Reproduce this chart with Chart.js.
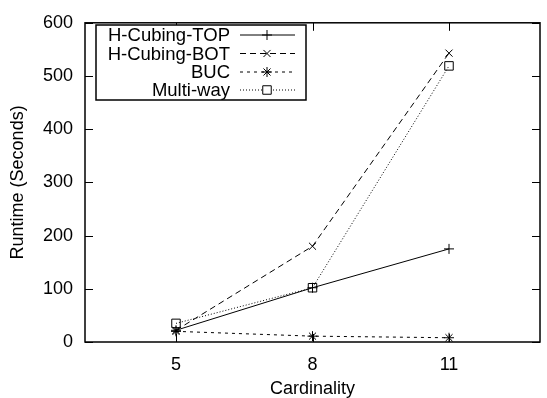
<!DOCTYPE html>
<html>
<head>
<meta charset="utf-8">
<script src="https://cdn.jsdelivr.net/npm/chart.js@4.4.0/dist/chart.umd.min.js"></script>
<style>
  html,body{margin:0;padding:0;background:#fff;}
  #wrap{width:547px;height:398px;}
</style>
</head>
<body>
<div id="wrap"><canvas id="runtimeChart" width="547" height="398"></canvas></div>
<script>
// cardinality on x, runtime in seconds on y
const cardinality = [5, 8, 11];
const xTicks = [5, 8, 11];
const hCubingTop = [22, 102, 175];
const hCubingBot = [22, 180, 543];
const buc = [20, 11, 8];
const multiWay = [35, 102, 519];

const seriesNames = ["H-Cubing-TOP", "H-Cubing-BOT", "BUC", "Multi-way"];

const FONT = "'Liberation Sans', Arial, sans-serif";

function pts(vals){
    return cardinality.map((c, i) => ({x: c, y: vals[i]}));
}

// frame with inward ticks on all four sides, gnuplot style
const framePlugin = {
    id: "frame",
    afterDraw(chart){
        const ctx = chart.ctx;
        const a = chart.chartArea;
        const xs = chart.scales.x, ys = chart.scales.y;
        ctx.save();
        ctx.strokeStyle = "#000";
        ctx.lineWidth = 1.5;
        ctx.strokeRect(a.left, a.top, a.right - a.left, a.bottom - a.top);
        ctx.lineWidth = 1;
        ctx.beginPath();
        xTicks.forEach(v => {
            const px = Math.round(xs.getPixelForValue(v)) + 0.5;
            ctx.moveTo(px, a.bottom); ctx.lineTo(px, a.bottom - 8);
            ctx.moveTo(px, a.top); ctx.lineTo(px, a.top + 8);
        });
        ys.ticks.forEach(t => {
            const py = Math.round(ys.getPixelForValue(t.value)) + 0.5;
            ctx.moveTo(a.left, py); ctx.lineTo(a.left + 8, py);
            ctx.moveTo(a.right, py); ctx.lineTo(a.right - 8, py);
        });
        ctx.stroke();

        // legend box
        const bx = 96, by = 25, bw = 210, bh = 75;
        ctx.fillStyle = "#fff";
        ctx.fillRect(bx, by, bw, bh);
        ctx.lineWidth = 1.5;
        ctx.strokeRect(bx, by, bw, bh);
        ctx.font = "18.5px " + FONT;
        ctx.textAlign = "right";
        ctx.textBaseline = "middle";
        const rows = [35, 53.5, 72, 90];
        chart.data.datasets.forEach((ds, i) => {
            const y = rows[i];
            ctx.fillStyle = "#000";
            ctx.fillText(ds.label, 230, y + 1);
            ctx.save();
            ctx.lineWidth = 1;
            ctx.setLineDash(ds.borderDash || []);
            ctx.beginPath();
            ctx.moveTo(240, y); ctx.lineTo(295, y);
            ctx.stroke();
            ctx.restore();
            ctx.save();
            ctx.lineWidth = 1;
            ctx.fillStyle = "#fff";
            ctx.strokeStyle = "#000";
            Chart.helpers.drawPoint(ctx, {
                pointStyle: ds.pointStyle,
                radius: ds.pointRadius,
                borderWidth: 1
            }, 267, y);
            ctx.restore();
        });
        ctx.restore();
    }
};

const ctx = document.getElementById("runtimeChart").getContext("2d");
new Chart(ctx, {
    type: "line",
    data: {
        datasets: [
            {label: seriesNames[0], data: pts(hCubingTop), borderDash: [], pointStyle: "cross", pointRadius: 5},
            {label: seriesNames[1], data: pts(hCubingBot), borderDash: [6, 4], pointStyle: "crossRot", pointRadius: 5},
            {label: seriesNames[2], data: pts(buc), borderDash: [3, 4], pointStyle: "star", pointRadius: 5},
            {label: seriesNames[3], data: pts(multiWay), borderDash: [1, 2], pointStyle: "rect", pointRadius: 6}
        ].map(d => Object.assign(d, {
            borderColor: "#000",
            backgroundColor: "transparent",
            pointBorderColor: "#000",
            pointBackgroundColor: "transparent",
            pointBorderWidth: 1,
            borderWidth: 1,
            tension: 0,
            fill: false
        }))
    },
    options: {
        responsive: false,
        animation: false,
        devicePixelRatio: 1,
        layout: {padding: {top: 17, right: 6, left: 0, bottom: 0}},
        plugins: {legend: {display: false}, tooltip: {enabled: false}},
        scales: {
            x: {
                type: "linear",
                min: 3, max: 13,
                afterBuildTicks: s => { s.ticks = xTicks.map(v => ({value: v})); },
                afterFit: s => { s.height = 56; },
                grid: {display: false, drawTicks: false},
                border: {display: false},
                ticks: {color: "#000", padding: 12, font: {family: FONT, size: 18}},
                title: {display: true, text: "Cardinality", color: "#000", padding: {top: 0, bottom: -2},
                        font: {family: FONT, size: 18}}
            },
            y: {
                min: 0, max: 600,
                afterFit: s => { s.width = 85; },
                grid: {display: false, drawTicks: false},
                border: {display: false},
                ticks: {stepSize: 100, color: "#000", padding: 12, font: {family: FONT, size: 18}},
                title: {display: true, text: "Runtime (Seconds)", color: "#000", padding: {top: 7, bottom: 0},
                        font: {family: FONT, size: 18}}
            }
        }
    },
    plugins: [framePlugin]
});
</script>
</body>
</html>
